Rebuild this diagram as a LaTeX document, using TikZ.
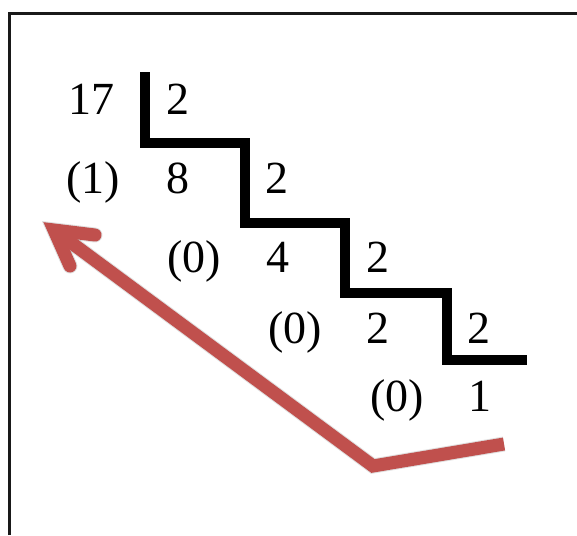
\documentclass[tikz,border=0pt]{standalone}
\usepackage{fontspec}
\setmainfont{Liberation Serif}
\begin{document}
\begin{tikzpicture}[x=1pt,y=-1pt,
  num/.style={anchor=base,inner sep=0pt,font=\fontsize{46}{50}\selectfont},
  stair/.style={line width=10pt,black,line join=miter,line cap=butt},
  redline/.style={line width=13pt,color=arrowred,line join=miter},
  shadowline/.style={line width=15pt,color=black,opacity=0.12,line join=miter}]
\definecolor{arrowred}{RGB}{192,80,77}
\useasboundingbox (0,0) rectangle (577,535);
% frame
\draw[line width=3pt,black!90] (9.5,535) -- (9.5,13.5) -- (577,13.5);
% staircase
\draw[stair] (145,72) -- (145,143) -- (245,143) -- (245,223) -- (345,223)
  -- (345,293) -- (447,293) -- (447,360) -- (527,360);
% numbers
\node[num] (n17) at (91,114) {17};
\node[num] (d1) at (178,114) {2};
\node[num] (r1) at (93,193) {(1)};
\node[num] (q1) at (178,193) {8};
\node[num] (d2) at (277,193) {2};
\node[num] (r2) at (194,272) {(0)};
\node[num] (q2) at (278,272) {4};
\node[num] (d3) at (378,272) {2};
\node[num] (r3) at (295,343) {(0)};
\node[num] (q3) at (378,343) {2};
\node[num] (d4) at (479,343) {2};
\node[num] (r4) at (397,411) {(0)};
\node[num] (q4) at (480,411) {1};
% arrow coordinates
\coordinate (aend) at (504,444);
\coordinate (acorner) at (373,466);
\coordinate (atip) at (54,230);
\coordinate (barbA) at (95,235);
\coordinate (barbB) at (70,266);
% shadow
\begin{scope}[shift={(3,6)}]
\draw[shadowline] (aend) -- (acorner) -- (atip);
\draw[shadowline,line cap=round] (barbA) -- (atip) -- (barbB);
\end{scope}
% red arrow
\draw[redline] (aend) -- (acorner) -- (atip);
\draw[redline,line cap=round] (barbA) -- (atip) -- (barbB);
\end{tikzpicture}
\end{document}
